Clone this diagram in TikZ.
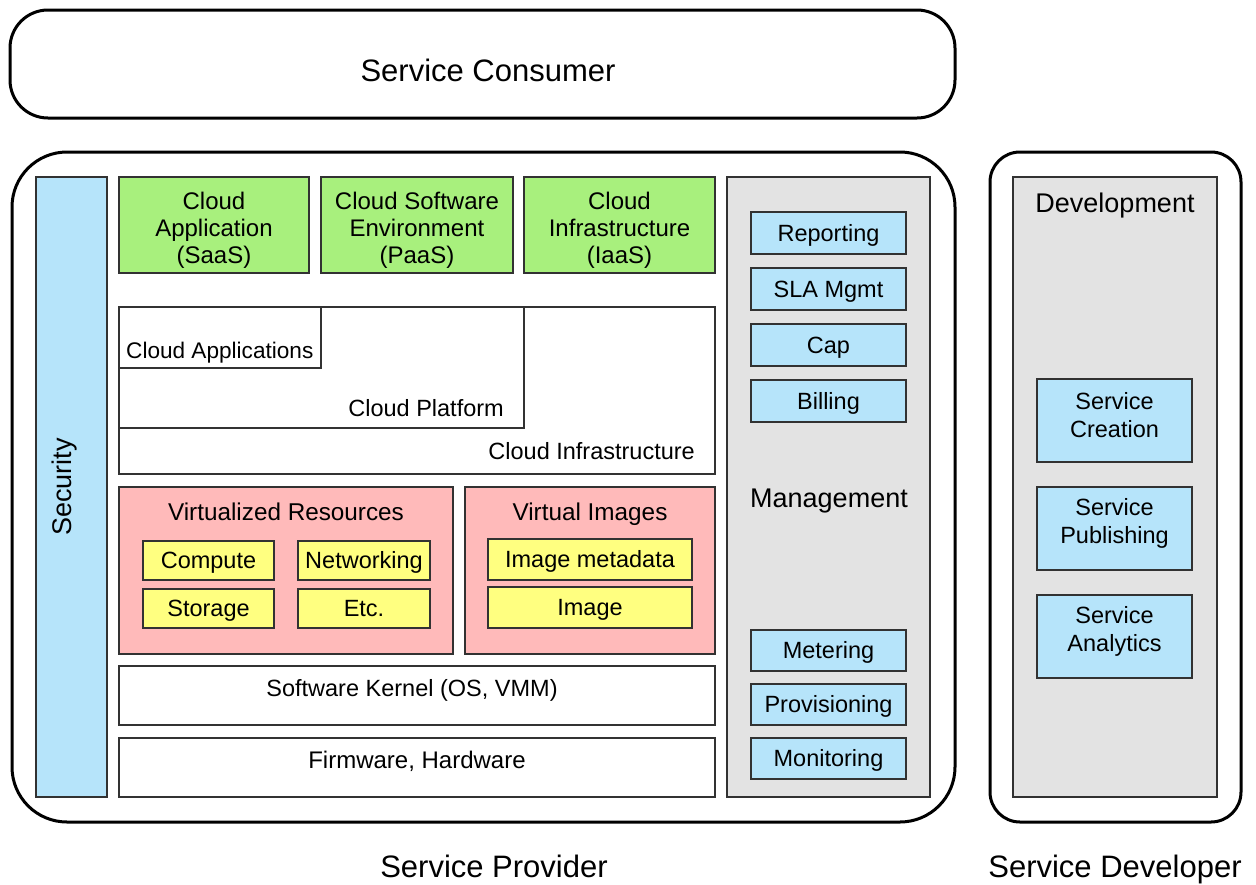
\documentclass[tikz,border=0pt]{standalone}
\usepackage{fontspec}
\setmainfont{Liberation Sans}
\definecolor{cgreen}{RGB}{168,240,125}
\definecolor{cblue}{RGB}{182,228,250}
\definecolor{cgrey}{RGB}{227,227,227}
\definecolor{cpink}{RGB}{255,186,186}
\definecolor{cyel}{RGB}{255,255,128}
\definecolor{cline}{RGB}{50,50,50}
\begin{document}
\begin{tikzpicture}[x=1pt,y=-1pt,
  bx/.style={draw=cline, line width=2pt, inner sep=0pt, outer sep=0pt, anchor=north west, align=center, font=\fontsize{23.5}{28}\selectfont},
  one/.style={text height=17.5pt, text depth=0.7pt},
  outerbox/.style={draw=black, line width=3pt, inner sep=0pt, outer sep=0pt, anchor=north west, fill=white},
  lbl/.style={inner sep=0pt, anchor=base, font=\fontsize{23.5}{28}\selectfont},
  gtxt/.style={inner sep=0pt, align=center, font=\fontsize{24}{27}\selectfont},
  dtxt/.style={inner sep=0pt, align=center, font=\fontsize{23.5}{28}\selectfont},
  big/.style={inner sep=0pt, anchor=base, font=\fontsize{31}{36}\selectfont},
  sect/.style={inner sep=0pt, anchor=base, font=\fontsize{27}{32}\selectfont},
]
\useasboundingbox (0,0) rectangle (1256,884);
% outer containers
\node[outerbox, rounded corners=38pt, minimum width=945pt, minimum height=108pt] (consumer) at (10,10) {};
\node[big] (consumertxt) at (488,81) {Service Consumer};
\node[outerbox, rounded corners=55pt, minimum width=943pt, minimum height=670pt] (provider) at (12,152) {};
\node[outerbox, rounded corners=30pt, minimum width=251pt, minimum height=670pt] (developer) at (990,152) {};
\node[big] (providertxt) at (494,877) {Service Provider};
\node[big] (developertxt) at (1115,877) {Service Developer};
% security
\node[bx, fill=cblue, minimum width=71pt, minimum height=620pt] (security) at (36,177) {};
\node[lbl, rotate=90, font=\fontsize{27}{30}\selectfont] (securitytxt) at (71,487) {Security};
% green service models
\node[bx, fill=cgreen, minimum width=190pt, minimum height=96pt] (saas) at (119,177) {};
\node[bx, fill=cgreen, minimum width=192pt, minimum height=96pt] (paas) at (321,177) {};
\node[bx, fill=cgreen, minimum width=191pt, minimum height=96pt] (iaas) at (524,177) {};
\node[gtxt] (saastxt) at (214,230) {Cloud\\Application\\(SaaS)};
\node[gtxt] (paastxt) at (417,230) {Cloud Software\\Environment\\(PaaS)};
\node[gtxt] (iaastxt) at (619.5,230) {Cloud\\Infrastructure\\(IaaS)};
% nested cloud layers
\node[bx, fill=white, minimum width=596pt, minimum height=167pt] (ci) at (119,307) {};
\node[bx, fill=white, minimum width=405pt, minimum height=121pt] (cp) at (119,307) {};
\node[bx, fill=white, minimum width=202pt, minimum height=61pt] (ca) at (119,307) {};
\node[lbl, anchor=base west, font=\fontsize{22.6}{28}\selectfont] (catxt) at (126,358) {Cloud Applications};
\node[lbl, anchor=base east] (cptxt) at (504,416) {Cloud Platform};
\node[lbl, anchor=base east] (citxt) at (695,459) {Cloud Infrastructure};
% virtualized resources
\node[bx, fill=cpink, minimum width=334pt, minimum height=167pt] (vr) at (119,487) {};
\node[bx, fill=cpink, minimum width=250pt, minimum height=167pt] (vi) at (465,487) {};
\node[lbl, font=\fontsize{24.3}{28}\selectfont] (vrtxt) at (286,520) {Virtualized Resources};
\node[lbl, font=\fontsize{24.3}{28}\selectfont] (vitxt) at (590,520) {Virtual Images};
\node[bx, one, fill=cyel, minimum width=131pt, minimum height=39pt] (compute) at (143,541) {Compute};
\node[bx, one, fill=cyel, minimum width=132pt, minimum height=39pt] (networking) at (298,541) {Networking};
\node[bx, one, fill=cyel, minimum width=131pt, minimum height=39pt] (storage) at (143,589) {Storage};
\node[bx, one, fill=cyel, minimum width=132pt, minimum height=39pt] (etc) at (298,589) {Etc.};
\node[bx, one, fill=cyel, minimum width=204pt, minimum height=41pt] (imgmeta) at (488,539) {Image metadata};
\node[bx, one, fill=cyel, minimum width=204pt, minimum height=41pt] (image) at (488,587) {Image};
% kernel, hardware
\node[bx, fill=white, minimum width=596pt, minimum height=59pt] (kernel) at (119,666) {};
\node[bx, fill=white, minimum width=596pt, minimum height=59pt] (firmware) at (119,738) {};
\node[lbl] (kerneltxt) at (412,696) {Software Kernel (OS, VMM)};
\node[lbl, font=\fontsize{24}{28}\selectfont] (firmwaretxt) at (417,768) {Firmware, Hardware};
% management
\node[bx, fill=cgrey, minimum width=203pt, minimum height=620pt] (mgmt) at (727,177) {};
\node[sect] (mgmttxt) at (829,507) {Management};
\node[bx, one, fill=cblue, minimum width=155pt, minimum height=42pt] (reporting) at (751,212) {Reporting};
\node[bx, one, fill=cblue, minimum width=155pt, minimum height=42pt] (sla) at (751,268) {SLA Mgmt};
\node[bx, one, fill=cblue, minimum width=155pt, minimum height=42pt] (cap) at (751,324) {Cap};
\node[bx, one, fill=cblue, minimum width=155pt, minimum height=42pt] (billing) at (751,380) {Billing};
\node[bx, one, fill=cblue, minimum width=155pt, minimum height=41pt] (metering) at (751,630) {Metering};
\node[bx, one, fill=cblue, minimum width=155pt, minimum height=41pt] (provisioning) at (751,684) {Provisioning};
\node[bx, one, fill=cblue, minimum width=155pt, minimum height=41pt] (monitoring) at (751,738) {Monitoring};
% development
\node[bx, fill=cgrey, minimum width=204pt, minimum height=620pt] (dev) at (1013,177) {};
\node[sect] (devtxt) at (1115,212) {Development};
\node[bx, fill=cblue, minimum width=155pt, minimum height=83pt] (creation) at (1037,379) {};
\node[bx, fill=cblue, minimum width=155pt, minimum height=83pt] (publishing) at (1037,487) {};
\node[bx, fill=cblue, minimum width=155pt, minimum height=83pt] (analytics) at (1037,595) {};
\node[dtxt] (creationtxt) at (1114.5,415.5) {Service\\Creation};
\node[dtxt] (publishingtxt) at (1114.5,523.5) {Service\\Publishing};
\node[dtxt] (analyticstxt) at (1114.5,631.5) {Service\\Analytics};
\end{tikzpicture}
\end{document}
